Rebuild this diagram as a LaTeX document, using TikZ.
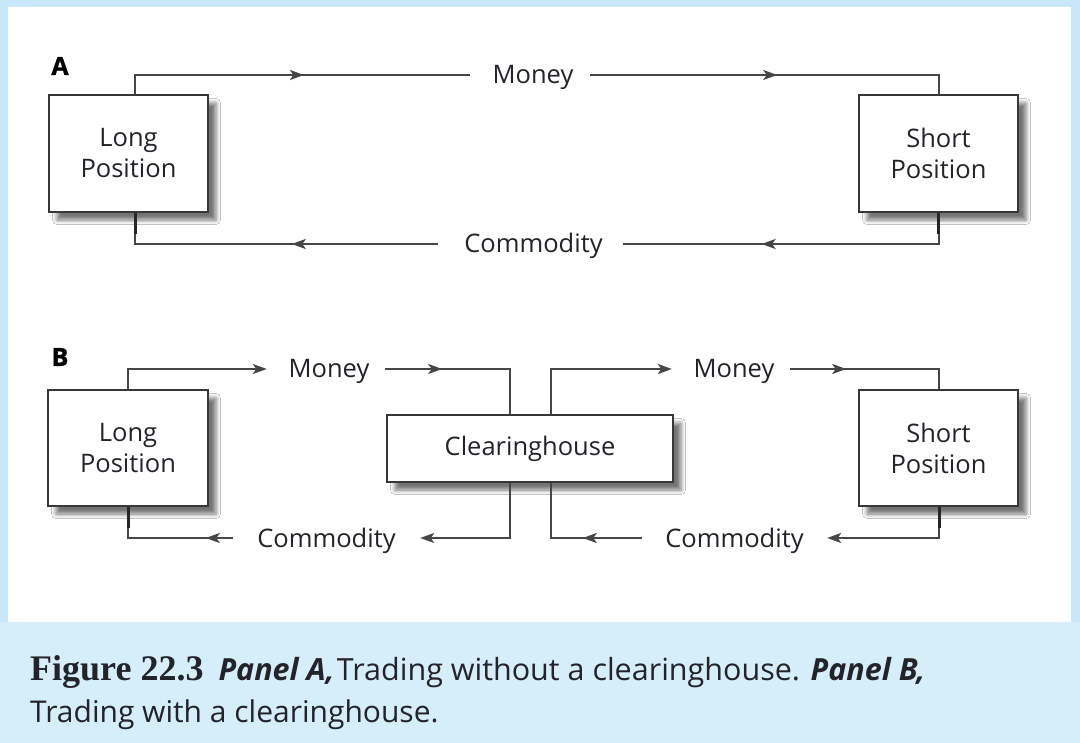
\documentclass[tikz,border=0pt]{standalone}
\usepackage{fontspec}
\setmainfont{Open Sans}
\newfontfamily\capserif{Liberation Serif}
\usetikzlibrary{arrows.meta,decorations.markings,shadows.blur}
\definecolor{edgeblue}{RGB}{200,232,250}
\definecolor{capblue}{RGB}{213,238,250}
\definecolor{txt}{RGB}{35,35,42}
\definecolor{lnc}{RGB}{70,70,70}
\definecolor{boxc}{RGB}{55,55,55}
\begin{document}
\begin{tikzpicture}[x=1pt,y=-1pt,
  posbox/.style={draw=boxc,line width=1.8pt,fill=white,inner sep=0pt,
    blur shadow={shadow xshift=8pt,shadow yshift=-8pt,shadow blur radius=4.5pt,shadow opacity=55},
    font=\fontsize{25.5}{31}\selectfont,text=txt,align=center},
  flowlbl/.style={font=\fontsize{25.5}{29}\selectfont,text=txt,inner sep=0pt,
    text height=18pt,text depth=0pt},
  panellbl/.style={font=\fontsize{25}{26}\selectfont\bfseries\addfontfeature{FakeBold=1.2},text=black,inner sep=0pt},
  flow/.style={draw=lnc,line width=2pt},
  endarrow/.style={flow,-{Stealth[length=14pt,width=10pt,inset=3.5pt]}},
  midarrow/.style={flow,postaction={decorate,decoration={markings,
    mark=at position #1 with {\arrow{Stealth[length=14pt,width=10pt,inset=3.5pt]}}}}},
  thickseg/.style={draw=black!85,line width=3pt}
]
\useasboundingbox (0,0) rectangle (1080,743);
% backgrounds
\fill[edgeblue] (0,0) rectangle (1080,743);
\fill[capblue] (0,622) rectangle (1080,743);
\fill[white] (8,7) rectangle (1071,622);

% ---------- Panel A ----------
\node[panellbl] (lblA) at (60,66) {A};
\node[posbox,minimum width=159pt,minimum height=117pt] (LA) at (128.5,153.5) {Long\\Position};
\node[posbox,minimum width=159pt,minimum height=117pt] (SA) at (938.5,153.5) {Short\\Position};
\node[flowlbl,minimum width=120pt] (mA) at (530,75) {\hspace{6pt}Money};
\node[flowlbl,minimum width=185pt] (cA) at (530.5,244) {\hspace{6pt}Commodity};

\draw[midarrow=188pt] ([xshift=6.5pt]LA.north) |- (mA.west);
\draw[midarrow=187pt] (mA.east) -| (SA.north);
\draw[midarrow=208pt] (SA.south) |- (cA.east);
\draw[midarrow=146pt] (cA.west) -| ([xshift=6.5pt]LA.south);
\draw[thickseg] ([xshift=6.5pt]LA.south) -- ++(0,21);
\draw[thickseg] (SA.south) -- ++(0,21);

% ---------- Panel B ----------
\node[panellbl] (lblB) at (60,357) {B};
\node[posbox,minimum width=160pt,minimum height=116pt] (LB) at (128,448) {Long\\Position};
\node[posbox,minimum width=159pt,minimum height=116pt] (SB) at (938.5,448) {Short\\Position};
\node[posbox,minimum width=286pt,minimum height=67pt] (CH) at (530,448.5) {Clearinghouse};

\node[flowlbl,minimum width=118pt] (mB1) at (326,369) {\hspace{6pt}Money};
\node[flowlbl,minimum width=118pt] (mB2) at (731,369) {\hspace{6pt}Money};
\node[flowlbl,minimum width=187pt] (cB1) at (326.5,538) {Commodity};
\node[flowlbl,minimum width=185pt] (cB2) at (734.5,538) {Commodity};

\draw[endarrow] (LB.north) |- (mB1.west);
\draw[midarrow=57pt] (mB1.east) -| ([xshift=-20pt]CH.north);
\draw[endarrow] ([xshift=21pt]CH.north) |- (mB2.west);
\draw[midarrow=56pt] (mB2.east) -| ([xshift=0.5pt]SB.north);

\draw[endarrow] ([xshift=-20pt]CH.south) |- (cB1.east);
\draw[midarrow=27pt] (cB1.west) -| (LB.south);
\draw[endarrow] ([xshift=0.5pt]SB.south) |- (cB2.east);
\draw[midarrow=59pt] (cB2.west) -| ([xshift=21pt]CH.south);
\draw[thickseg] (LB.south) -- ++(0,21);
\draw[thickseg] ([xshift=0.5pt]SB.south) -- ++(0,21);

% ---------- Caption ----------
\node[anchor=base west,inner sep=0pt,text=txt] (cap1) at (30,680)
  {{\capserif\bfseries\fontsize{36}{40}\selectfont Figure 22.3}\hspace{15pt}{\fontsize{30.5}{36}\selectfont\bfseries\itshape Panel A,} {\fontsize{30.5}{36}\selectfont Trading without a clearinghouse. \bfseries\itshape Panel B,}};
\node[anchor=base west,inner sep=0pt,text=txt,font=\fontsize{30}{36}\selectfont] (cap2) at (30,722)
  {Trading with a clearinghouse.};
\end{tikzpicture}
\end{document}
